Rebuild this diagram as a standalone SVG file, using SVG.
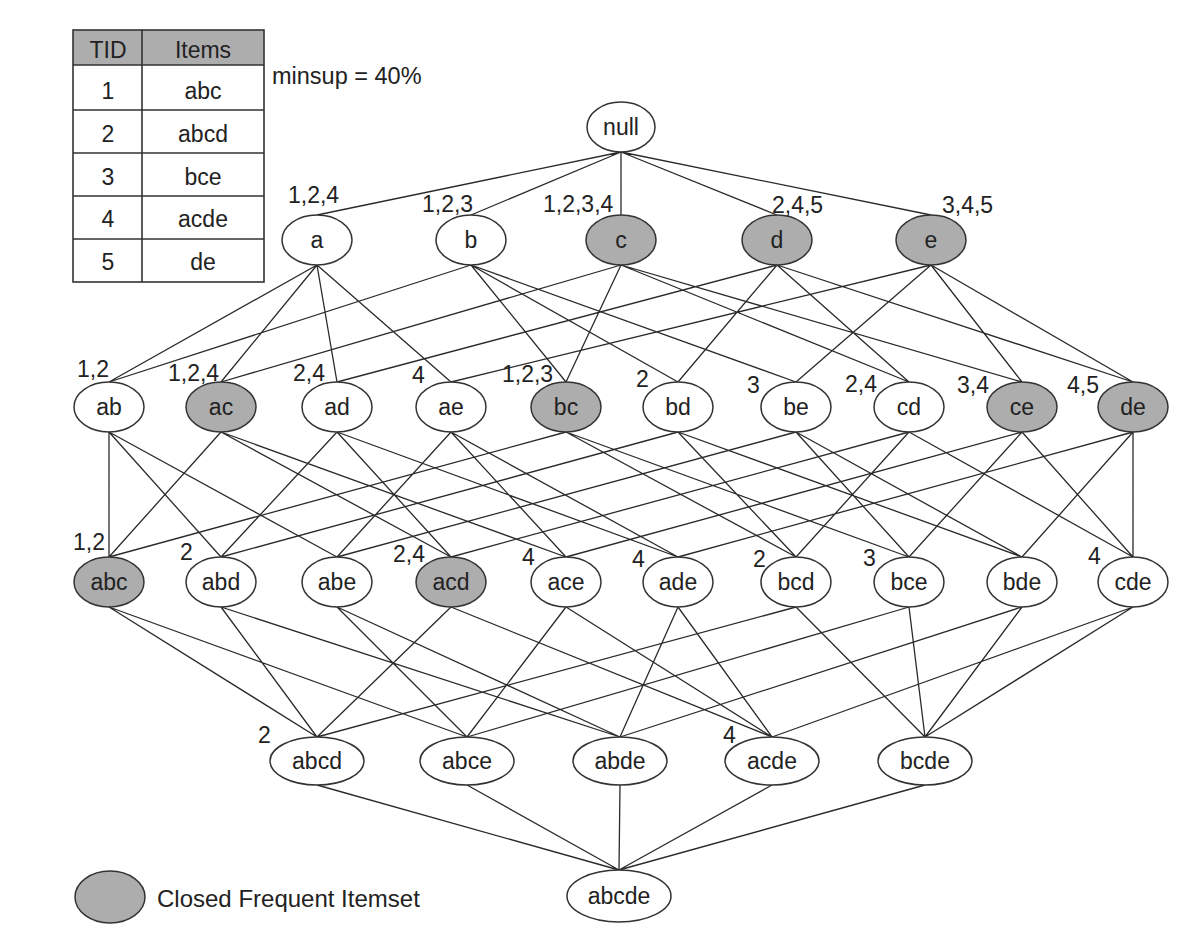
<svg xmlns="http://www.w3.org/2000/svg" width="1202" height="950" viewBox="0 0 1202 950">
<defs>
<style>
text{font-family:"Liberation Sans",Arial,Helvetica,sans-serif;font-size:23px;fill:#222}
.n{fill:#fff;stroke:#333;stroke-width:1.5}
.s{fill:#adadad;stroke:#333;stroke-width:1.5}
.t{text-anchor:middle}
.e{fill:none;stroke:#2a2a2a;stroke-width:1.3}
.tb{fill:none;stroke:#333;stroke-width:1.6}
</style>
</defs>
<rect width="1202" height="950" fill="#fff"/>
<g id="table">
<rect x="73" y="30" width="191" height="35" fill="#adadad"/>
<rect class="tb" x="73" y="30" width="191" height="252"/>
<path class="tb" d="M142,30V282M73,65H264M73,110H264M73,153H264M73,196H264M73,239H264"/>
<text class="t" x="108" y="58" fill="#333">TID</text>
<text class="t" x="203" y="58">Items</text>
<text class="t" x="108" y="99">1</text><text class="t" x="203" y="99">abc</text>
<text class="t" x="108" y="142">2</text><text class="t" x="203" y="142">abcd</text>
<text class="t" x="108" y="185">3</text><text class="t" x="203" y="185">bce</text>
<text class="t" x="108" y="227">4</text><text class="t" x="203" y="227">acde</text>
<text class="t" x="108" y="270">5</text><text class="t" x="203" y="270">de</text>
</g>
<text x="272" y="84" style="font-size:23.5px">minsup = 40%</text>
<g id="connectors" class="e">
<path class="e" d="M621,152L317,215M621,152L471,215M621,152L621,215M621,152L777,215M621,152L931,215
M317,265L109,382M317,265L221,382M317,265L337,382M317,265L451,382
M471,265L109,382M471,265L566,382M471,265L678,382M471,265L796,382
M621,265L221,382M621,265L566,382M621,265L909,382M621,265L1022,382
M777,265L337,382M777,265L678,382M777,265L909,382M777,265L1133,382
M931,265L451,382M931,265L796,382M931,265L1022,382M931,265L1133,382
M109,432L109,557M109,432L221,557M109,432L337,557
M221,432L109,557M221,432L451,557M221,432L566,557
M337,432L221,557M337,432L451,557M337,432L678,557
M451,432L337,557M451,432L566,557M451,432L678,557
M566,432L109,557M566,432L796,557M566,432L909,557
M678,432L221,557M678,432L796,557M678,432L1022,557
M796,432L337,557M796,432L909,557M796,432L1022,557
M909,432L451,557M909,432L796,557M909,432L1133,557
M1022,432L566,557M1022,432L909,557M1022,432L1133,557
M1133,432L678,557M1133,432L1022,557M1133,432L1133,557
M109,607L317,737M109,607L467,737
M221,607L317,737M221,607L620,737
M337,607L467,737M337,607L620,737
M451,607L317,737M451,607L772,737
M566,607L467,737M566,607L772,737
M678,607L620,737M678,607L772,737
M796,607L317,737M796,607L925,737
M909,607L467,737M909,607L925,737
M1022,607L620,737M1022,607L925,737
M1133,607L772,737M1133,607L925,737
M317,785L619,870M467,785L619,870M620,785L619,870M772,785L619,870M925,785L619,870"/>
</g>
<g id="null"><ellipse class="n" cx="621" cy="127" rx="34" ry="25"/><text class="t" x="621" y="135">null</text></g>
<g id="a"><ellipse class="n" cx="317" cy="240" rx="35" ry="25"/><text class="t" x="317" y="248">a</text><text x="288" y="203">1,2,4</text></g>
<g id="b"><ellipse class="n" cx="471" cy="240" rx="35" ry="25"/><text class="t" x="471" y="248">b</text><text x="422" y="212">1,2,3</text></g>
<g id="c"><ellipse class="s" cx="621" cy="240" rx="35" ry="25"/><text class="t" x="621" y="248">c</text><text x="543" y="212">1,2,3,4</text></g>
<g id="d"><ellipse class="s" cx="777" cy="240" rx="35" ry="25"/><text class="t" x="777" y="248">d</text><text x="772" y="213">2,4,5</text></g>
<g id="e"><ellipse class="s" cx="931" cy="240" rx="35" ry="25"/><text class="t" x="931" y="248">e</text><text x="942" y="213">3,4,5</text></g>
<g id="ab"><ellipse class="n" cx="109" cy="407" rx="35" ry="25"/><text class="t" x="109" y="415">ab</text><text x="77" y="377">1,2</text></g>
<g id="ac"><ellipse class="s" cx="221" cy="407" rx="35" ry="25"/><text class="t" x="221" y="415">ac</text><text x="168" y="381">1,2,4</text></g>
<g id="ad"><ellipse class="n" cx="337" cy="407" rx="35" ry="25"/><text class="t" x="337" y="415">ad</text><text x="293" y="381">2,4</text></g>
<g id="ae"><ellipse class="n" cx="451" cy="407" rx="35" ry="25"/><text class="t" x="451" y="415">ae</text><text x="412" y="383">4</text></g>
<g id="bc"><ellipse class="s" cx="566" cy="407" rx="35" ry="25"/><text class="t" x="566" y="415">bc</text><text x="502" y="382">1,2,3</text></g>
<g id="bd"><ellipse class="n" cx="678" cy="407" rx="35" ry="25"/><text class="t" x="678" y="415">bd</text><text x="636" y="387">2</text></g>
<g id="be"><ellipse class="n" cx="796" cy="407" rx="35" ry="25"/><text class="t" x="796" y="415">be</text><text x="747" y="393">3</text></g>
<g id="cd"><ellipse class="n" cx="909" cy="407" rx="35" ry="25"/><text class="t" x="909" y="415">cd</text><text x="845" y="392">2,4</text></g>
<g id="ce"><ellipse class="s" cx="1022" cy="407" rx="35" ry="25"/><text class="t" x="1022" y="415">ce</text><text x="957" y="393">3,4</text></g>
<g id="de"><ellipse class="s" cx="1133" cy="407" rx="35" ry="25"/><text class="t" x="1133" y="415">de</text><text x="1067" y="393">4,5</text></g>
<g id="abc"><ellipse class="s" cx="109" cy="582" rx="35" ry="25"/><text class="t" x="109" y="590">abc</text><text x="73" y="550">1,2</text></g>
<g id="abd"><ellipse class="n" cx="221" cy="582" rx="35" ry="25"/><text class="t" x="221" y="590">abd</text><text x="180" y="560">2</text></g>
<g id="abe"><ellipse class="n" cx="337" cy="582" rx="35" ry="25"/><text class="t" x="337" y="590">abe</text></g>
<g id="acd"><ellipse class="s" cx="451" cy="582" rx="35" ry="25"/><text class="t" x="451" y="590">acd</text><text x="393" y="562">2,4</text></g>
<g id="ace"><ellipse class="n" cx="566" cy="582" rx="35" ry="25"/><text class="t" x="566" y="590">ace</text><text x="522" y="565">4</text></g>
<g id="ade"><ellipse class="n" cx="678" cy="582" rx="35" ry="25"/><text class="t" x="678" y="590">ade</text><text x="632" y="567">4</text></g>
<g id="bcd"><ellipse class="n" cx="796" cy="582" rx="35" ry="25"/><text class="t" x="796" y="590">bcd</text><text x="753" y="567">2</text></g>
<g id="bce"><ellipse class="n" cx="909" cy="582" rx="35" ry="25"/><text class="t" x="909" y="590">bce</text><text x="863" y="566">3</text></g>
<g id="bde"><ellipse class="n" cx="1022" cy="582" rx="35" ry="25"/><text class="t" x="1022" y="590">bde</text></g>
<g id="cde"><ellipse class="n" cx="1133" cy="582" rx="35" ry="25"/><text class="t" x="1133" y="590">cde</text><text x="1088" y="564">4</text></g>
<g id="abcd"><ellipse class="n" cx="317" cy="761" rx="47" ry="24"/><text class="t" x="317" y="769">abcd</text><text x="258" y="743">2</text></g>
<g id="abce"><ellipse class="n" cx="467" cy="761" rx="47" ry="24"/><text class="t" x="467" y="769">abce</text></g>
<g id="abde"><ellipse class="n" cx="620" cy="761" rx="47" ry="24"/><text class="t" x="620" y="769">abde</text></g>
<g id="acde"><ellipse class="n" cx="772" cy="761" rx="47" ry="24"/><text class="t" x="772" y="769">acde</text><text x="723" y="743">4</text></g>
<g id="bcde"><ellipse class="n" cx="925" cy="761" rx="47" ry="24"/><text class="t" x="925" y="769">bcde</text></g>
<g id="abcde"><ellipse class="n" cx="619" cy="896" rx="52" ry="26"/><text class="t" x="619" y="904">abcde</text></g>
<g id="legend"><ellipse class="s" cx="110" cy="897" rx="35" ry="26"/><text x="157" y="907" style="font-size:24px">Closed Frequent Itemset</text></g>
</svg>
